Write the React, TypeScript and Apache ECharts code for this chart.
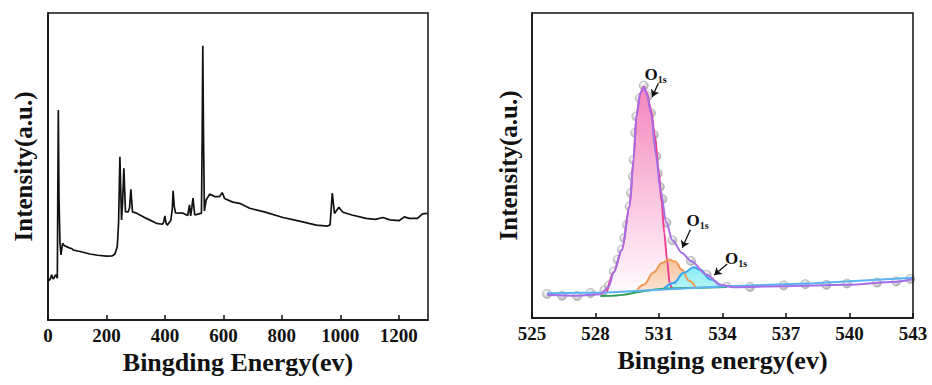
import React, { useEffect, useRef } from "react";
import * as echarts from "echarts";

// ---------- Left panel: XPS survey spectrum ----------
const surveyTicks = [0, 200, 400, 600, 800, 1000, 1200];
const surveyE = [
  0, 2, 7, 12.5, 17, 20.5, 24, 27, 31.9, 33.5, 35.3, 37.5, 41, 44.4, 50, 56, 63.8, 72, 80.8, 86, 110, 143, 170, 200, 220, 229,
  237, 241.4, 246, 251.6, 255, 259.6, 265, 274, 279, 283.5, 289, 303, 337, 371, 392, 396, 400, 404, 408, 420, 425, 428,
  432, 436, 462, 478, 484, 488, 492, 496, 502, 513, 525, 527.5, 529.6, 532, 535, 541, 553, 570, 587, 596, 604, 632,
  655, 690, 740, 804, 860, 918, 957, 965, 972.5, 980, 995, 1009, 1040, 1088, 1120, 1145, 1170, 1202, 1219, 1236, 1264,
  1281, 1298, 1300,
];
const surveyI = [
  14.1, 12.8, 13.2, 14.7, 13.4, 13.6, 14.5, 14.7, 13.6, 40, 68.4, 40, 25, 21.2, 25, 24.2, 23.9, 23.5, 23.3, 22.8, 22.3,
  21.5, 21.1, 20.8, 20.9, 21.5, 23.9, 31.5, 53.2, 32.6, 38, 49.4, 35.3, 35.2, 36.5, 42.6, 35.2, 34.8, 33.1, 31.5, 31.2,
  32, 33.9, 31.5, 30.9, 32.4, 36, 42.1, 37, 34.9, 34.8, 34, 37.5, 33.9, 36.5, 39.7, 34.2, 34.5, 34.8, 60, 89.3, 60, 35.5,
  39.1, 41, 40.2, 40.2, 41.5, 39.6, 38.4, 38, 36.4, 35.2, 33.4, 32.2, 30.9, 30.6, 31, 41.3, 34.7, 36.7, 35.1, 34.2, 33.1,
  32.8, 33.4, 32.6, 32.4, 33.6, 33.1, 33.1, 34.6, 34.7, 34.8,
];

// ---------- Right panel: O 1s high-resolution spectrum ----------
const o1sTicks = [525, 528, 531, 534, 537, 540, 543];
// measured points (grey circles)
const pointE = [
  525.71, 526.42, 527.13, 527.76, 528.42, 528.64, 528.86, 529.05, 529.25, 529.36, 529.49, 529.61, 529.68, 529.77, 529.8,
  529.88, 529.93, 530.09, 530.28, 530.46, 530.62, 530.75, 530.87, 530.94, 531.04, 531.16, 531.35, 531.63, 532.51, 533.25,
  534.21, 535.3, 536.89, 537.91, 538.91, 539.88, 541.3, 542.21, 542.87,
];
const pointI = [
  7.9, 7.3, 7.2, 8.2, 9.1, 10.7, 15.3, 19.1, 22.4, 26.2, 30.6, 36.6, 41.0, 46.4, 51.9, 60.7, 66.1, 72.1, 76.2, 72.7, 67.2,
  60.1, 53.0, 47.4, 43.0, 39.0, 31.3, 25.5, 18.7, 14.2, 10.2, 10.2, 10.7, 11.1, 10.9, 11.3, 11.6, 12.0, 12.8,
];
// fitted envelope (purple)
const envelopeE = [
  525.71, 527.13, 528.23, 528.62, 528.86, 529.25, 529.61, 529.8, 529.93, 530.12, 530.28, 530.43, 530.62, 530.87, 531.06,
  531.35, 531.63, 532.09, 532.51, 533.25, 533.9, 534.53, 536.73, 539.88, 542.21, 543.0,
];
const envelopeI = [
  7.65, 7.3, 7.8, 10.2, 15.0, 22.4, 36.6, 51.9, 66.1, 73.8, 75.7, 73.2, 67.2, 53.0, 42.1, 31.3, 25.5, 21.3, 18.7, 14.2,
  10.9, 10.1, 10.4, 10.9, 11.9, 12.8,
];
// component 1 (pink)
const peakAE = [
  528.54, 528.86, 529.25, 529.61, 529.8, 529.93, 530.12, 530.28, 530.43, 530.62, 530.81, 530.98, 531.13, 531.25, 531.38,
  531.5, 531.61,
];
const peakAI = [8.4, 15.0, 22.4, 36.6, 51.9, 66.1, 73.8, 75.9, 73.8, 68.3, 59.6, 48.6, 37.7, 27.9, 19.1, 11.5, 9.5];
// component 2 (orange)
const peakBE = [529.96, 530.28, 530.75, 531.14, 531.46, 531.77, 532.09, 532.4, 532.72];
const peakBI = [9.1, 10.9, 15.0, 18.0, 19.2, 18.5, 15.8, 12.3, 10.1];
// component 3 (cyan)
const peakCE = [531.22, 531.69, 532.17, 532.64, 532.95, 533.43, 533.9];
const peakCI = [9.5, 11.5, 14.8, 16.6, 15.8, 12.6, 10.6];
// Shirley background (green)
const shirleyE = [528.0, 528.23, 529.17, 530.12, 531.06, 532.32, 534.21, 534.5];
const shirleyI = [7.2, 7.2, 7.5, 8.6, 9.5, 9.8, 10.2, 10.2];
// linear background (light blue)
const linearBgE = [525.71, 528.54, 534.21, 538.31, 543.0];
const linearBgI = [8.1, 8.4, 10.4, 11.4, 13.2];
// annotations
const labelE = [530.84, 532.82, 534.64];
const labelI = [80.0, 32.1, 19.6];
const arrowFromE = [530.97, 532.48, 534.22];
const arrowFromI = [77.0, 28.9, 17.7];
const arrowToE = [530.68, 532.1, 533.61];
const arrowToI = [72.5, 23.0, 14.1];

const FONT = "'Liberation Serif', 'Times New Roman', serif";

const zip = (a: number[], b: number[]) => a.map((v, i) => [v, b[i]]);

export default function App() {
  const ref = useRef<HTMLDivElement>(null);
  useEffect(() => {
    if (!ref.current) return;
    const chart = echarts.init(ref.current, undefined, { renderer: "svg" });
    const grad = (c0: string, c1: string, o1 = 1) =>
      new echarts.graphic.LinearGradient(0, 0, 0, 1, [
        { offset: 0, color: c0 },
        { offset: o1, color: c1 },
      ]);
    const tickLabel = { fontFamily: FONT, fontWeight: "bold", fontSize: 19, color: "#111", margin: 6 };
    const nameStyle = { fontFamily: FONT, fontWeight: "bold", fontSize: 26, color: "#111" };
    const yNameStyle = { fontFamily: FONT, fontWeight: "bold", fontSize: 25, color: "#111" };
    const axisLine = { show: true, lineStyle: { color: "#111", width: 1.5 } };
    const axisTick = { show: true, inside: true, length: 5, lineStyle: { color: "#111", width: 1.5 } };

    chart.setOption({
      animation: false,
      backgroundColor: "#fff",
      grid: [
        { left: 48, top: 13, width: 380, height: 307, show: true, borderColor: "#111", borderWidth: 1.5, z: 10 },
        { left: 532, top: 13, width: 381, height: 305, show: true, borderColor: "#111", borderWidth: 1.5, z: 10 },
      ],
      xAxis: [
        {
          gridIndex: 0,
          type: "value",
          min: 0,
          max: 1300,
          interval: 200,
          name: "Bingding Energy(ev)",
          nameLocation: "middle",
          nameGap: 27,
          nameTextStyle: nameStyle,
          axisLine,
          axisTick,
          splitLine: { show: false },
          axisLabel: { ...tickLabel, showMaxLabel: false, formatter: (v: number) => (surveyTicks.includes(v) ? String(v) : "") },
          z: 10,
        },
        {
          gridIndex: 1,
          type: "value",
          min: 525,
          max: 543,
          interval: 3,
          name: "Binging energy(ev)",
          nameLocation: "middle",
          nameGap: 27,
          nameTextStyle: nameStyle,
          axisLine,
          axisTick,
          splitLine: { show: false },
          axisLabel: { ...tickLabel, formatter: (v: number) => (o1sTicks.includes(v) ? String(v) : "") },
          z: 10,
        },
      ],
      yAxis: [
        {
          gridIndex: 0,
          type: "value",
          min: 0,
          max: 100,
          name: "Intensity(a.u.)",
          nameLocation: "middle",
          nameGap: 12,
          nameTextStyle: yNameStyle,
          axisLine,
          axisTick: { show: false },
          axisLabel: { show: false },
          splitLine: { show: false },
          z: 10,
        },
        {
          gridIndex: 1,
          type: "value",
          min: 0,
          max: 100,
          name: "Intensity(a.u.)",
          nameLocation: "middle",
          nameGap: 11,
          nameTextStyle: yNameStyle,
          axisLine,
          axisTick: { show: false },
          axisLabel: { show: false },
          splitLine: { show: false },
          z: 10,
        },
      ],
      series: [
        {
          name: "survey",
          type: "line",
          xAxisIndex: 0,
          yAxisIndex: 0,
          data: zip(surveyE, surveyI),
          showSymbol: false,
          lineStyle: { color: "#111", width: 1.7 },
        },
        {
          name: "peakA",
          type: "line",
          xAxisIndex: 1,
          yAxisIndex: 1,
          data: zip(peakAE, peakAI),
          smooth: 0.3,
          smoothMonotone: "x",
          showSymbol: false,
          lineStyle: { color: "#ee3f93", width: 2 },
          areaStyle: { color: grad("#f585bd", "#ffffff", 0.92), opacity: 1 },
        },
        {
          name: "peakB",
          type: "line",
          xAxisIndex: 1,
          yAxisIndex: 1,
          data: zip(peakBE, peakBI),
          smooth: 0.4,
          smoothMonotone: "x",
          showSymbol: false,
          lineStyle: { color: "#f29a55", width: 2 },
          areaStyle: { color: grad("#f7c39f", "#ffffff"), opacity: 1 },
        },
        {
          name: "peakC",
          type: "line",
          xAxisIndex: 1,
          yAxisIndex: 1,
          data: zip(peakCE, peakCI),
          smooth: 0.4,
          smoothMonotone: "x",
          showSymbol: false,
          lineStyle: { color: "#3aa2f2", width: 2 },
          areaStyle: { color: grad("#86ecf3", "#ffffff"), opacity: 1 },
        },
        {
          name: "mask",
          type: "line",
          xAxisIndex: 1,
          yAxisIndex: 1,
          data: zip(shirleyE, shirleyI),
          smooth: 0.4,
          showSymbol: false,
          lineStyle: { width: 0, opacity: 0 },
          areaStyle: { color: "#ffffff", opacity: 1 },
          silent: true,
        },
        {
          name: "shirley",
          type: "line",
          xAxisIndex: 1,
          yAxisIndex: 1,
          data: zip(shirleyE.slice(1, -1), shirleyI.slice(1, -1)),
          smooth: 0.4,
          showSymbol: false,
          lineStyle: { color: "#2f9e58", width: 2 },
        },
        {
          name: "linearBg",
          type: "line",
          xAxisIndex: 1,
          yAxisIndex: 1,
          data: zip(linearBgE, linearBgI),
          showSymbol: false,
          lineStyle: { color: "#5ab4f2", width: 2 },
        },
        {
          name: "envelope",
          type: "line",
          xAxisIndex: 1,
          yAxisIndex: 1,
          data: zip(envelopeE, envelopeI),
          smooth: 0.3,
          smoothMonotone: "x",
          showSymbol: false,
          lineStyle: { color: "#a56ee8", width: 2 },
          markPoint: {
            silent: true,
            symbol: "circle",
            symbolSize: 1,
            itemStyle: { color: "rgba(0,0,0,0)" },
            label: {
              show: true,
              position: "inside",
              formatter: "{o|O}{s|1s}",
              rich: {
                o: { fontFamily: FONT, fontWeight: "bold", fontSize: 17, color: "#111", lineHeight: 20, verticalAlign: "middle" },
                s: { fontFamily: FONT, fontWeight: "bold", fontSize: 10, color: "#111", lineHeight: 12, verticalAlign: "bottom" },
              },
            },
            data: labelE.map((e, i) => ({ coord: [e, labelI[i]] })),
          },
          markLine: {
            silent: true,
            symbol: ["none", "arrow"],
            symbolSize: 7,
            label: { show: false },
            lineStyle: { color: "#111", width: 1.3, type: "solid" },
            data: arrowFromE.map((e, i) => [
              { coord: [e, arrowFromI[i]] },
              { coord: [arrowToE[i], arrowToI[i]] },
            ]),
          },
        },
        {
          name: "points",
          type: "scatter",
          xAxisIndex: 1,
          yAxisIndex: 1,
          data: zip(pointE, pointI),
          symbolSize: 9,
          itemStyle: {
            color: new echarts.graphic.RadialGradient(0.4, 0.35, 0.7, [
              { offset: 0, color: "#ffffff" },
              { offset: 1, color: "#9c9c9c" },
            ]),
            borderColor: "#8c8c8c",
            borderWidth: 0.6,
          },
        },
      ],
    });
    return () => chart.dispose();
  }, []);
  return (
    <div
      ref={ref}
      style={{ position: "fixed", left: 0, top: 0, width: 932, height: 385, background: "#fff" }}
    />
  );
}
